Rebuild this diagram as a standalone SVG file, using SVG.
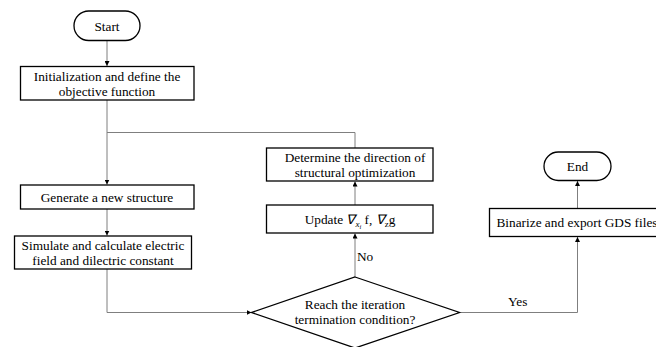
<svg xmlns="http://www.w3.org/2000/svg" width="656" height="347" viewBox="0 0 656 347">
<style>
.box{fill:#fff;stroke:#000;stroke-width:1.3}
.ln{fill:none;stroke:#7f7f7f;stroke-width:1}
text{font-family:"Liberation Serif","Times New Roman",serif;font-size:13.3px;fill:#000;text-anchor:middle}
.lbl{text-anchor:start}
</style>
<defs>
<marker id="ah" viewBox="0 0 10 10" refX="10" refY="5" markerWidth="5" markerHeight="5" orient="auto" markerUnits="userSpaceOnUse">
<path d="M0,0 L10,5 L0,10 z" fill="#000"/>
</marker>
</defs>
<g id="connectors">
<path class="ln" d="M107,40.5 V66" marker-end="url(#ah)"/>
<path class="ln" d="M107,100 V184.5" marker-end="url(#ah)"/>
<path class="ln" d="M107,132.5 H355 V148"/>
<path class="ln" d="M107,209 V235.5" marker-end="url(#ah)"/>
<path class="ln" d="M107,269 V312.5 H251.5" marker-end="url(#ah)"/>
<path class="ln" d="M355,277 V233.5" marker-end="url(#ah)"/>
<path class="ln" d="M355,205 V181.5" marker-end="url(#ah)"/>
<path class="ln" d="M460.5,312.5 H577.5 V237" marker-end="url(#ah)"/>
<path class="ln" d="M577.5,208.5 V181" marker-end="url(#ah)"/>
<text class="lbl" x="357" y="261">No</text>
<text class="lbl" x="508" y="306">Yes</text>
</g>
<g id="start">
<rect class="box" x="74" y="11" width="66" height="29.5" rx="14.75"/>
<text x="107" y="30.5">Start</text>
</g>
<g id="init">
<rect class="box" x="20.5" y="66.5" width="173.5" height="33.5"/>
<text x="107" y="81">Initialization and define the</text>
<text x="107" y="95.5">objective function</text>
</g>
<g id="generate">
<rect class="box" x="20.5" y="185" width="173.5" height="24"/>
<text x="107" y="201.5">Generate a new structure</text>
</g>
<g id="simulate">
<rect class="box" x="14.5" y="236" width="177" height="33"/>
<text x="103" y="249.5">Simulate and calculate electric</text>
<text x="103" y="265">field and dilectric constant</text>
</g>
<g id="determine">
<rect class="box" x="266.5" y="148" width="166.5" height="33"/>
<text x="355" y="161.5">Determine the direction of</text>
<text x="355" y="177">structural optimization</text>
</g>
<g id="update">
<rect class="box" x="266.5" y="205" width="166.5" height="28"/>
<text x="350" y="224">Update <tspan font-style="italic">∇</tspan><tspan font-style="italic" font-size="9" dy="3">x</tspan><tspan font-style="italic" font-size="6.5" dy="1.5">i</tspan><tspan dy="-4.5"> f, </tspan><tspan font-style="italic">∇</tspan><tspan font-size="9" dy="3">z</tspan><tspan dy="-3">g</tspan></text>
</g>
<g id="decision">
<polygon class="box" points="355,277 459.5,312.5 355,348 251.5,312.5"/>
<text x="355" y="309">Reach the iteration</text>
<text x="355" y="324">termination condition?</text>
</g>
<g id="binarize">
<rect class="box" x="489.5" y="208.5" width="180" height="28"/>
<text class="lbl" x="496.5" y="227">Binarize and export GDS files</text>
</g>
<g id="end">
<rect class="box" x="544" y="152" width="67" height="28.5" rx="14.25"/>
<text x="577.5" y="171">End</text>
</g>
</svg>
